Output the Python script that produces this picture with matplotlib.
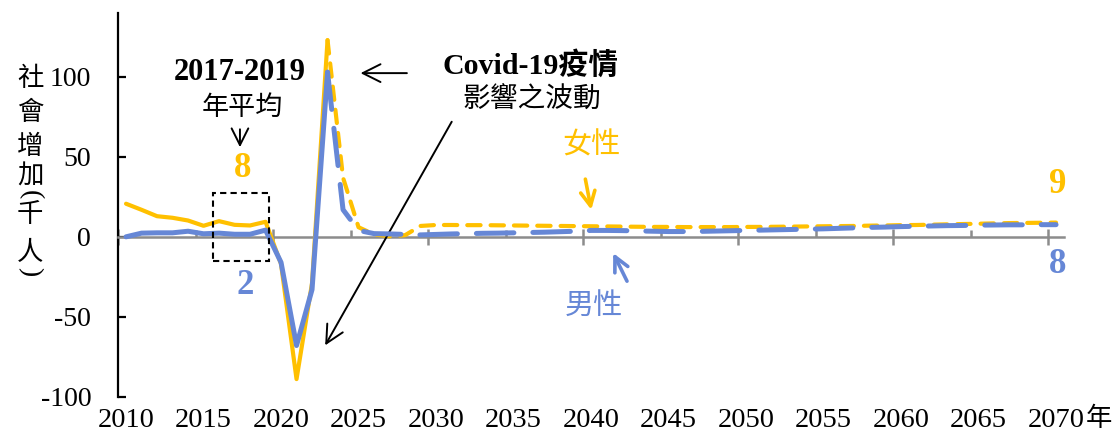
import numpy as np
import matplotlib
matplotlib.use("Agg")
import matplotlib.pyplot as plt
from matplotlib.patches import Rectangle
from matplotlib.transforms import blended_transform_factory

plt.rcParams['font.family'] = ['Liberation Serif', 'Noto Sans CJK TC']
plt.rcParams['axes.unicode_minus'] = False

# values (thousand persons), one per year 2010-2070
years = np.arange(2010, 2071)
female = [20.7, 16.9, 12.9, 11.9, 10.2, 6.9, 9.8, 7.5, 7.1, 9.4,
          -17, -89, -29, 123, 37, 6, 1.5, 0.3, 1.0, 6.8,
          7.4, 7.4, 7.3, 7.3, 7.2, 7.1, 7.0, 6.9, 6.8, 6.7,
          6.6, 6.5, 6.4, 6.3, 6.2, 6.2, 6.1, 6.1, 6.1, 6.1,
          6.2, 6.2, 6.3, 6.4, 6.5, 6.6, 6.7, 6.8, 7.0, 7.1,
          7.3, 7.4, 7.6, 7.8, 8.0, 8.2, 8.4, 8.6, 8.7, 8.8,
          8.9]
male = [0.0, 2.3, 2.5, 2.5, 3.5, 1.9, 2.3, 1.6, 1.6, 4.2,
        -16, -68, -33, 103, 17, 4, 2.0, 1.8, 1.5, 1.2,
        1.5, 1.8, 2.0, 2.2, 2.3, 2.5, 2.7, 2.9, 3.2, 3.5,
        4.0, 4.0, 3.9, 3.7, 3.5, 3.3, 3.3, 3.4, 3.6, 3.8,
        4.0, 4.2, 4.4, 4.6, 4.8, 5.0, 5.3, 5.6, 5.9, 6.1,
        6.4, 6.6, 6.8, 7.0, 7.1, 7.3, 7.4, 7.5, 7.5, 7.6,
        7.6]
last_actual = 2023  # solid up to here, projection dashed after
label_years = list(range(2010, 2071, 5))
yticks = [-100, -50, 0, 50, 100]

# vertical y-axis title, one glyph per row (pixel rows from the top);
# brackets are drawn turned a quarter, as in vertical writing
ylabel_chars = ['社', '會', '增', '加', '(', '千', '人', ')']
ylabel_rows = [78, 113, 147, 176, 195, 215, 253, 272]

YELLOW = '#FFC000'
BLUE = '#6687D6'

female = np.array(female)
male = np.array(male)
xc = years + 0.5  # category centres (Excel-like category axis)
solid = years <= last_actual
dashed = years >= last_actual

fig = plt.figure(figsize=(11.18, 4.34), dpi=100)
ax = fig.add_axes([0.1058, 0.086, 0.8457, 0.884])

ax.plot(xc[solid], female[solid], color=YELLOW, lw=3.0, solid_capstyle='round', zorder=3)
ax.plot(xc[dashed], female[dashed], color=YELLOW, lw=3.0, dashes=(3.2, 2.4),
        dash_capstyle='round', zorder=3)
ax.plot(xc[solid], male[solid], color=BLUE, lw=3.6, solid_capstyle='round', zorder=4)
ax.plot(xc[dashed], male[dashed], color=BLUE, lw=3.6, dashes=(7.5, 3.8),
        dash_capstyle='round', zorder=4)

ax.set_xlim(2010, 2071)
ax.set_ylim(-100, 140)

for s in ['top', 'right']:
    ax.spines[s].set_visible(False)
ax.spines['bottom'].set_position(('data', 0))
ax.spines['bottom'].set_color('#8c8c8c')
ax.spines['bottom'].set_linewidth(1.8)
ax.spines['left'].set_linewidth(1.6)
ax.spines['left'].set_bounds(-100, 140)

ax.set_xticks(range(2010, 2071, 10))
ax.set_xticks(range(2015, 2070, 10), minor=True)
ax.tick_params(axis='x', which='major', direction='inout', length=12, width=1.8,
               color='#8c8c8c', labelbottom=False)
ax.tick_params(axis='x', which='minor', direction='in', length=5, width=1.8,
               color='#8c8c8c', labelbottom=False)

ax.set_yticks(yticks)
ax.set_yticklabels([str(v) for v in yticks])
ax.tick_params(axis='y', direction='in', length=6, width=1.6, pad=19.5, labelsize=20)

# x labels sit at category centres along the bottom
tb = blended_transform_factory(ax.transData, ax.transAxes)
for yr in label_years:
    ax.text(yr + 0.5, -0.061, str(yr), transform=tb, ha='center', va='center',
            fontsize=20.5, clip_on=False)
ax.text(2072.4, -0.058, '年', transform=tb, ha='left', va='center',
        fontsize=19, family='Noto Sans CJK TC', clip_on=False)

for ch, row in zip(ylabel_chars, ylabel_rows):
    if ch in '()':
        fig.text(30 / 1118, 1 - row / 434, ch, ha='center', va='center',
                 fontsize=20, rotation=-90, rotation_mode='anchor',
                 family='Liberation Serif')
    else:
        fig.text(30 / 1118, 1 - row / 434, ch, ha='center', va='center',
                 fontsize=19, family='Noto Sans CJK TC')

# 2017-2019 average box
ax.add_patch(Rectangle((2016.1, -15), 3.6, 42.3, fill=False, ls=(0, (3, 2)),
                       lw=1.5, color='black', zorder=5))
ax.text(2017.85, 103, '2017-2019', ha='center', va='center', fontsize=22, weight='bold')
ax.text(2018.0, 81, '年平均', ha='center', va='center', fontsize=19.5,
        family='Noto Sans CJK TC')
ax.annotate('', xy=(2017.85, 54.3), xytext=(2017.85, 69),
            arrowprops=dict(arrowstyle='->', color='black', lw=1.4, mutation_scale=30))
ax.text(2018.05, 42.8, '8', color=YELLOW, ha='center', va='center', fontsize=25, weight='bold')
ax.text(2018.2, -30.5, '2', color=BLUE, ha='center', va='center', fontsize=25, weight='bold')

# covid note
ax.text(2036.6, 107.3, 'Covid-19疫情', ha='center', va='center', fontsize=21.5, weight='bold')
ax.text(2036.7, 86, '影響之波動', ha='center', va='center', fontsize=20,
        family='Noto Sans CJK TC')
ax.annotate('', xy=(2025.45, 102.4), xytext=(2028.8, 102.4),
            arrowprops=dict(arrowstyle='->', color='black', lw=1.4, mutation_scale=32))
ax.annotate('', xy=(2023.26, -69.4), xytext=(2031.6, 73.5),
            arrowprops=dict(arrowstyle='->', color='black', lw=1.4, mutation_scale=32))

# series labels
ax.text(2040.55, 57.2, '女性', color=YELLOW, ha='center', va='center', fontsize=21,
        family='Noto Sans CJK TC')
ax.annotate('', xy=(2040.55, 15.2), xytext=(2040.1, 37.8),
            arrowprops=dict(arrowstyle='->', color=YELLOW, lw=2.6, mutation_scale=26))
ax.text(2040.7, -43.1, '男性', color=BLUE, ha='center', va='center', fontsize=21,
        family='Noto Sans CJK TC')
ax.annotate('', xy=(2041.85, -8.6), xytext=(2042.9, -29.3),
            arrowprops=dict(arrowstyle='->', color=BLUE, lw=2.6, mutation_scale=26))

ax.text(2070.6, 32.8, '9', color=YELLOW, ha='center', va='center', fontsize=25, weight='bold')
ax.text(2070.6, -17.4, '8', color=BLUE, ha='center', va='center', fontsize=25, weight='bold')

fig.savefig('out.png', dpi=100)
